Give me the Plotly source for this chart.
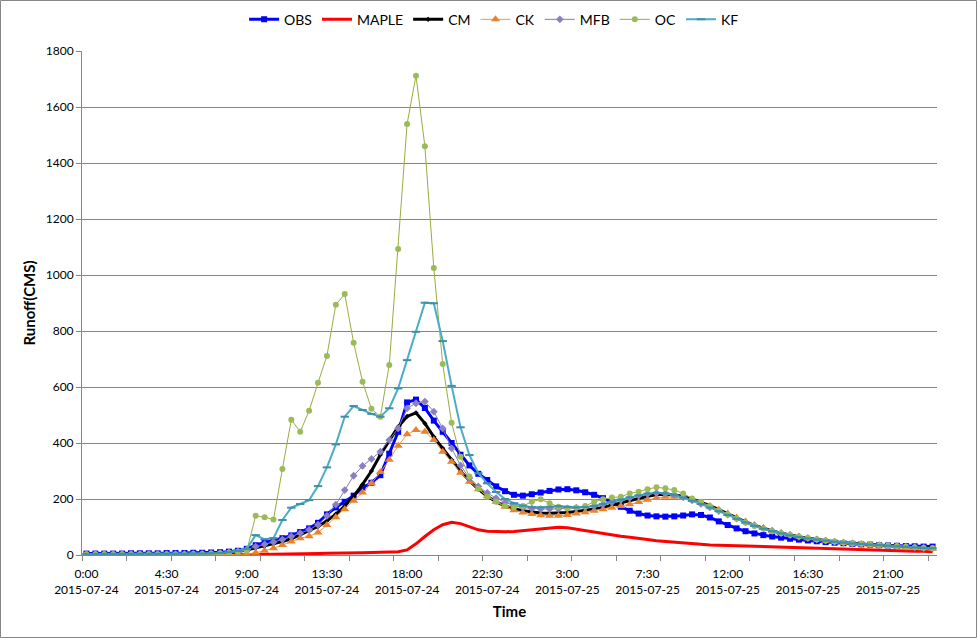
import plotly.graph_objects as go

# 30-minute steps from 2015-07-24 0:00 to 2015-07-25 23:30 (96 steps)
n_steps = 96
x_idx = list(range(n_steps))

tick_pos = [0, 9, 18, 27, 36, 45, 54, 63, 72, 81, 90]
tick_text = ["0:00<br>2015-07-24", "4:30<br>2015-07-24", "9:00<br>2015-07-24",
             "13:30<br>2015-07-24", "18:00<br>2015-07-24", "22:30<br>2015-07-24",
             "3:00<br>2015-07-25", "7:30<br>2015-07-25", "12:00<br>2015-07-25",
             "16:30<br>2015-07-25", "21:00<br>2015-07-25"]
minor_ticks = [k - 0.5 for k in range(0, 96, 5)]

obs = [5,5,5,5,5,6,6,6,6,7,7,7,8,8,9,10,12,15,
       22,35,45,52,60,70,82,95,115,145,170,190,212,240,258,285,362,440,
       545,555,525,480,440,400,358,320,290,268,245,228,215,212,217,223,229,234,
       235,231,224,215,203,188,172,158,148,141,138,137,138,141,145,143,134,120,
       107,95,85,77,71,66,62,58,55,52,49,46,44,42,40,38,37,35,34,33,32,31,30,30]
maple = [0,0,0,0,0,0,0,0,0,0,0,0,0,0,0,0,0,0,
         1,2,2,3,3,4,4,5,5,6,6,7,7,8,9,10,11,12,
         18,40,66,90,108,117,112,100,90,85,83,83,84,87,91,95,98,99,
         97,92,86,80,75,71,67,63,58,55,51,48,45,42,40,38,36,35,
         34,33,31,30,29,28,27,26,25,24,22,21,20,19,18,17,16,16,15,15,14,13,13,12]
cm = [2,2,2,2,2,2,2,2,2,2,2,2,3,3,4,5,8,12,
      18,25,32,40,48,58,72,86,102,122,146,175,210,252,300,358,410,458,
      495,508,470,422,381,340,300,265,235,210,190,175,165,158,153,150,149,150,
      152,155,159,164,170,178,186,195,203,210,215,217,215,209,200,189,176,162,
      147,132,118,106,95,86,78,71,65,60,55,51,47,44,41,39,37,35,33,31,29,27,25,24]
ck = [0,0,0,0,0,0,0,0,0,0,0,0,0,0,0,0,1,2,
      4,8,15,24,36,48,60,67,80,107,135,163,194,223,256,296,340,390,
      431,446,440,411,369,333,294,262,235,210,190,172,160,152,146,142,140,140,
      143,148,153,158,163,169,175,181,189,197,204,208,208,204,196,186,175,162,
      148,134,120,107,96,87,79,72,66,60,55,51,47,44,41,38,36,34,32,30,28,26,24,22]
mfb = [3,3,3,3,3,3,3,3,3,3,3,3,4,4,5,6,9,13,
       20,30,38,46,55,66,78,90,108,140,180,232,283,318,343,369,411,452,
       524,542,548,512,452,381,320,275,245,222,203,188,177,170,166,164,164,165,
       166,168,171,175,181,188,196,204,212,218,221,220,215,206,195,183,170,157,
       144,130,117,105,95,86,78,71,65,60,55,51,47,44,41,39,37,35,33,31,29,27,25,24]
oc = [3,3,3,3,3,3,3,3,3,3,3,3,4,4,5,6,8,12,
      15,140,135,127,307,483,440,515,615,711,894,932,758,619,522,494,679,1093,
      1539,1712,1460,1025,682,472,351,280,237,208,190,175,170,175,190,199,185,172,
      167,170,175,190,199,205,208,220,226,235,242,238,232,220,202,190,175,160,
      145,130,116,104,94,85,78,71,66,61,56,52,48,45,42,40,38,36,34,32,30,28,26,25]
kf = [4,4,4,4,4,4,4,4,4,4,4,4,5,5,6,7,10,15,
      22,71,56,60,125,169,182,196,246,313,395,494,532,518,504,494,524,595,
      696,797,901,899,764,604,456,357,292,256,225,200,185,176,171,170,172,174,
      172,170,171,175,182,190,198,206,213,219,222,220,214,205,194,182,169,156,
      143,129,116,104,94,85,77,70,64,59,55,51,47,44,41,39,37,35,33,31,29,27,25,24]

fig = go.Figure()
fig.add_trace(go.Scatter(x=x_idx, y=obs, name="OBS", mode="lines+markers",
                         line=dict(color="#0000FF", width=3),
                         marker=dict(symbol="square", size=6, color="#0000FF")))
fig.add_trace(go.Scatter(x=x_idx, y=maple, name="MAPLE", mode="lines",
                         line=dict(color="#FF0000", width=3)))
fig.add_trace(go.Scatter(x=x_idx, y=cm, name="CM", mode="lines+markers",
                         line=dict(color="#000000", width=3),
                         marker=dict(symbol="diamond", size=4, color="#000000")))
fig.add_trace(go.Scatter(x=x_idx, y=ck, name="CK", mode="lines+markers",
                         line=dict(color="#F79646", width=1),
                         marker=dict(symbol="triangle-up", size=8, color="#E8822E")))
fig.add_trace(go.Scatter(x=x_idx, y=mfb, name="MFB", mode="lines+markers",
                         line=dict(color="#7F7FB0", width=1),
                         marker=dict(symbol="diamond", size=6, color="#8C7FBF")))
fig.add_trace(go.Scatter(x=x_idx, y=oc, name="OC", mode="lines+markers",
                         line=dict(color="#9BAB3F", width=1),
                         marker=dict(symbol="circle", size=6, color="#9BBB59")))
fig.add_trace(go.Scatter(x=x_idx, y=kf, name="KF", mode="lines+markers",
                         line=dict(color="#4BACC6", width=2),
                         marker=dict(symbol="line-ew", size=6,
                                     line=dict(width=2, color="#3E8FA8"))))

grid = "#868686"
fig.update_layout(
    width=977, height=638,
    margin=dict(l=82, r=40, t=51, b=83, autoexpand=False),
    paper_bgcolor="white", plot_bgcolor="white",
    font=dict(family="Lato, Noto Sans, sans-serif", size=12, color="#000000"),
    showlegend=True,
    legend=dict(orientation="h", x=0.482, xanchor="center", y=1.062, yanchor="middle",
                font=dict(size=14), itemwidth=30, tracegroupgap=0,
                bgcolor="rgba(0,0,0,0)"),
    xaxis=dict(range=[-0.5, 95.5], tickmode="array", tickvals=tick_pos, ticktext=tick_text,
               ticks="outside", ticklen=0, showgrid=False, zeroline=False,
               showline=True, linecolor=grid, linewidth=1, automargin=False,
               tickfont=dict(size=12), ticklabelstandoff=8,
               minor=dict(tickmode="array", tickvals=minor_ticks, ticks="outside",
                          ticklen=5, tickcolor=grid, showgrid=False),
               title=dict(text="<b>Time</b>", font=dict(size=15), standoff=10)),
    yaxis=dict(range=[0, 1800], tickmode="array", tickvals=list(range(0, 1801, 200)),
               ticks="outside", ticklen=5, tickcolor=grid,
               showgrid=True, gridcolor=grid, gridwidth=1, zeroline=False,
               showline=True, linecolor=grid, linewidth=1, automargin=False,
               tickfont=dict(size=12),
               title=dict(text="<b>Runoff(CMS)</b>", font=dict(size=15), standoff=6)),
)

# chart-area border
fig.add_shape(type="rect", xref="paper", yref="paper",
              x0=-81.5 / 855, x1=1 + 39.5 / 855, y0=-82.5 / 504, y1=1 + 50.5 / 504,
              line=dict(color=grid, width=1), fillcolor="rgba(0,0,0,0)", layer="below")

fig.write_html("out.html", config={"displayModeBar": False},
               post_script="document.body.style.margin='0';document.body.style.overflow='hidden';")
